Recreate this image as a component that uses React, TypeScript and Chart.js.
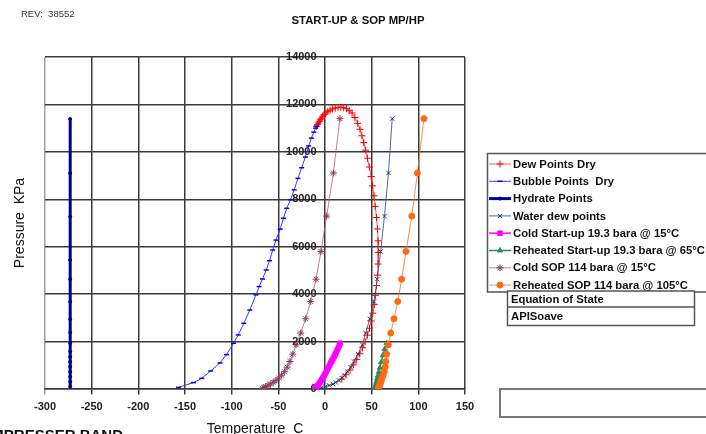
import React, { useEffect, useRef } from 'react';
import { Chart, registerables } from 'chart.js';
import { drawPoint } from 'chart.js/helpers';

Chart.register(...registerables);

const FONT = '"Liberation Sans", Arial, sans-serif';

const revText = 'REV:  38552';
const titleText = 'START-UP & SOP MP/HP';
const xTitle = 'Temperature  C';
const yTitle = 'Pressure  KPa';
const footText = 'COMPRESSER BAND';
const eosHeader = 'Equation of State';
const eosValue = 'APISoave';

const xTicks = [-300, -250, -200, -150, -100, -50, 0, 50, 100, 150];
const yTicks = [0, 2000, 4000, 6000, 8000, 10000, 12000, 14000];

const seriesNames = [
  'Dew Points Dry',
  'Bubble Points  Dry',
  'Hydrate Points',
  'Water dew points',
  'Cold Start-up 19.3 bara @ 15°C',
  'Reheated Start-up 19.3 bara @ 65°C',
  'Cold SOP 114 bara @ 15°C',
  'Reheated SOP 114 bara @ 105°C',
];

const dewT = [-9, -8, -7, -6, -5, -4, -2.5, -1, 1, 3, 5.5, 8, 11, 14, 17, 20, 23, 26, 29, 32, 35, 37.5, 39.5, 41.5, 43.5, 45.5, 47.5, 49.5, 51, 52.5, 53.8, 55.2, 56.2, 56.9, 57.2, 56.9, 56.2, 55.2, 54, 52.7, 51.2, 49.5, 47.7, 45.5, 43, 40.3, 37.3, 34, 30.5, 26.8, 22.5, 18];
const dewP = [11080, 11150, 11220, 11290, 11350, 11420, 11500, 11570, 11640, 11710, 11760, 11810, 11850, 11875, 11880, 11860, 11820, 11740, 11640, 11450, 11200, 10950, 10680, 10390, 10070, 9730, 9360, 8960, 8570, 8150, 7700, 7230, 6750, 6250, 5760, 5270, 4800, 4360, 3950, 3560, 3200, 2870, 2560, 2270, 2000, 1740, 1490, 1250, 1020, 800, 600, 420];

const bubbleT = [-157, -141, -132, -122.5, -112.5, -105.5, -98, -93, -87, -80.5, -74, -70.5, -67, -63, -59.5, -56, -52.5, -48, -44.5, -41, -37, -33, -29, -25, -21, -17.5, -14.5, -12, -10, -9];
const bubbleP = [70, 270, 450, 760, 1100, 1450, 1930, 2280, 2770, 3330, 3970, 4320, 4640, 5020, 5410, 5860, 6280, 6740, 7200, 7620, 7980, 8400, 8880, 9330, 9780, 10250, 10580, 10830, 11000, 11080];

const hydrateT = [-273, -273, -273, -273, -273, -273, -273, -273, -273, -273, -273, -273, -273, -273, -273, -273, -273];
const hydrateP = [11390, 9100, 7270, 5440, 4630, 3680, 2940, 2380, 1930, 1580, 1360, 1150, 940, 730, 520, 310, 100];

const waterT = [-8, -3.5, 0.5, 4.5, 8.5, 11.5, 15, 18, 21, 24, 27.5, 31, 35.3, 40, 43.5, 48, 52.5, 56, 59.6, 63.7, 68, 72];
const waterP = [30, 60, 100, 150, 210, 280, 360, 460, 580, 730, 920, 1160, 1470, 1860, 2360, 2960, 3690, 4630, 5800, 7290, 9110, 11400];

const coldUpT = [-11, -10, -8.8, -7.5, -6, -4.8, -3.5, -2.3, -1, 0.2, 1.4, 2.6, 3.8, 5, 6.2, 7.4, 8.6, 9.8, 10.9, 12, 13.2, 14.4, 15.4, 16.2];
const coldUpP = [20, 60, 110, 170, 240, 310, 390, 470, 560, 650, 740, 830, 920, 1010, 1100, 1190, 1280, 1370, 1460, 1550, 1650, 1750, 1850, 1930];

const hotUpT = [53.6, 53.8, 54, 54.3, 54.6, 55, 55.5, 56.1, 56.8, 57.7, 58.8, 60.2, 62, 63.8, 66];
const hotUpP = [20, 50, 90, 140, 200, 270, 350, 450, 570, 720, 900, 1130, 1420, 1680, 1930];

const coldSopT = [-67, -65.5, -63.5, -61, -58.5, -55.5, -52.5, -49.5, -46.5, -43.5, -40.5, -37.5, -34.5, -31, -26, -20.7, -15.4, -9.6, -4.3, 1.8, 9, 16];
const coldSopP = [30, 60, 100, 150, 210, 280, 360, 460, 580, 730, 920, 1160, 1470, 1860, 2360, 2960, 3690, 4630, 5800, 7290, 9110, 11400];

const hotSopT = [57.4, 57.7, 58, 58.5, 59, 59.6, 60.3, 61.2, 62.3, 63.5, 64.5, 65.2, 66, 67.9, 70.4, 73.9, 77.9, 82.1, 86.8, 93, 99, 106];
const hotSopP = [30, 60, 100, 150, 210, 280, 360, 460, 580, 730, 920, 1160, 1470, 1860, 2360, 2960, 3690, 4630, 5800, 7290, 9110, 11400];

const zip = (xs: number[], ys: number[]) => xs.map((x, i) => ({ x, y: ys[i] }));

type Style = { line: string; lw: number; fill: string; stroke: string; ps: string; r: number; pbw: number };
const styles: Style[] = [
  { line: 'rgba(255,40,40,0.75)', lw: 1, fill: '#ff0000', stroke: '#ff0000', ps: 'cross', r: 3.5, pbw: 1 },
  { line: '#3a3aff', lw: 1, fill: '#0000ff', stroke: '#0000ff', ps: 'line', r: 2.5, pbw: 1.5 },
  { line: '#00008b', lw: 3, fill: '#00008b', stroke: '#00008b', ps: 'circle', r: 1.5, pbw: 1 },
  { line: 'rgba(60,80,120,0.85)', lw: 1, fill: '#253a66', stroke: '#253a66', ps: 'crossRot', r: 3, pbw: 1 },
  { line: '#ff00ff', lw: 1.5, fill: '#ff00ff', stroke: '#ff00ff', ps: 'rect', r: 3.2, pbw: 1 },
  { line: '#2e8b57', lw: 1.5, fill: '#2e8b57', stroke: '#2e8b57', ps: 'triangle', r: 3, pbw: 1 },
  { line: 'rgba(160,90,125,0.75)', lw: 1, fill: '#8b3a62', stroke: '#8b3a62', ps: 'star', r: 3.5, pbw: 1 },
  { line: 'rgba(255,110,40,0.8)', lw: 1, fill: '#ff6a10', stroke: '#ff6a10', ps: 'circle', r: 3, pbw: 1 },
];

const seriesData = [
  zip(dewT, dewP),
  zip(bubbleT, bubbleP),
  zip(hydrateT, hydrateP),
  zip(waterT, waterP),
  zip(coldUpT, coldUpP),
  zip(hotUpT, hotUpP),
  zip(coldSopT, coldSopP),
  zip(hotSopT, hotSopP),
];

const decor = {
  id: 'decor',
  afterDraw(chart: any) {
    const ctx: CanvasRenderingContext2D = chart.ctx;
    const ca = chart.chartArea;
    ctx.save();
    ctx.textBaseline = 'middle';
    // REV
    ctx.fillStyle = '#333';
    ctx.font = `9.5px ${FONT}`;
    ctx.textAlign = 'left';
    ctx.fillText(revText, 21, 14);
    // title
    ctx.fillStyle = '#111';
    ctx.font = `bold 11.3px ${FONT}`;
    ctx.textAlign = 'center';
    ctx.fillText(titleText, 358, 21);
    // axis titles
    ctx.font = `14px ${FONT}`;
    ctx.fillText(xTitle, (ca.left + ca.right) / 2, 429);
    ctx.save();
    ctx.translate(20, (ca.top + ca.bottom) / 2);
    ctx.rotate(-Math.PI / 2);
    ctx.fillText(yTitle, 0, 0);
    ctx.restore();
    // footer clipped text
    ctx.font = `bold 15px ${FONT}`;
    ctx.textAlign = 'right';
    ctx.textBaseline = 'alphabetic';
    ctx.fillText(footText, 123, 440);
    ctx.textBaseline = 'middle';

    // legend
    ctx.fillStyle = '#fff';
    ctx.fillRect(487, 153, 260, 139);
    ctx.strokeStyle = '#555';
    ctx.lineWidth = 1.5;
    ctx.strokeRect(487.5, 153.5, 260, 138.5);
    chart.data.datasets.forEach((ds: any, i: number) => {
      const y = 164 + i * 17.3;
      ctx.strokeStyle = ds.borderColor;
      ctx.lineWidth = ds.borderWidth;
      ctx.beginPath();
      ctx.moveTo(489, y);
      ctx.lineTo(511, y);
      ctx.stroke();
      ctx.fillStyle = ds.pointBackgroundColor;
      ctx.strokeStyle = ds.pointBorderColor;
      ctx.lineWidth = ds.pointBorderWidth;
      drawPoint(ctx, { pointStyle: ds.pointStyle, radius: ds.pointRadius, borderWidth: ds.pointBorderWidth, rotation: 0 } as any, 500, y);
      ctx.fillStyle = '#111';
      ctx.font = `bold 11.3px ${FONT}`;
      ctx.textAlign = 'left';
      ctx.fillText(ds.label, 513, y + 0.5);
    });

    // equation of state table
    ctx.fillStyle = '#fff';
    ctx.fillRect(507, 291, 188, 35);
    ctx.strokeStyle = '#555';
    ctx.lineWidth = 1.5;
    ctx.strokeRect(507.5, 291, 187, 34.5);
    ctx.beginPath();
    ctx.moveTo(507.5, 307);
    ctx.lineTo(694.5, 307);
    ctx.stroke();
    ctx.fillStyle = '#111';
    ctx.font = `bold 11.3px ${FONT}`;
    ctx.fillText(eosHeader, 511, 299.5);
    ctx.fillText(eosValue, 511, 316.5);

    // bottom box
    ctx.strokeStyle = '#777';
    ctx.lineWidth = 2;
    ctx.strokeRect(500, 389, 260, 28);
    ctx.restore();
  },
};

export default function App() {
  const ref = useRef<HTMLCanvasElement | null>(null);
  useEffect(() => {
    if (!ref.current) return;
    const gridColor = (c: any) => (c.tick && c.tick.value === -300 ? '#a0a0a0' : '#3a3a3a');
    const chart = new Chart(ref.current, {
      type: 'scatter',
      data: {
        datasets: seriesData.map((d, i) => ({
          label: seriesNames[i],
          data: d,
          showLine: true,
          borderColor: styles[i].line,
          borderWidth: styles[i].lw,
          backgroundColor: styles[i].fill,
          pointBackgroundColor: styles[i].fill,
          pointBorderColor: styles[i].stroke,
          pointBorderWidth: styles[i].pbw,
          pointStyle: styles[i].ps as any,
          pointRadius: styles[i].r,
          tension: 0,
          order: -i,
        })),
      },
      options: {
        animation: false,
        responsive: false,
        layout: { padding: { left: 45, top: 57, right: 241, bottom: 45 } },
        plugins: { legend: { display: false }, tooltip: { enabled: false }, title: { display: false } },
        scales: {
          x: {
            type: 'linear',
            min: -300,
            max: 150,
            position: { y: 0 } as any,
            afterBuildTicks: (s: any) => { s.ticks = xTicks.map((v) => ({ value: v })); },
            ticks: {
              callback: (v: any) => String(v),
              color: '#222',
              font: { family: FONT, size: 11, weight: 'bold' },
              padding: 6,
              maxRotation: 0,
              autoSkip: false,
            },
            grid: { color: gridColor, lineWidth: 1.5, tickLength: 5 },
            border: { display: true, color: '#3a3a3a', width: 1.5 },
            afterFit: (s: any) => { s.height = 0; },
          } as any,
          y: {
            type: 'linear',
            min: 0,
            max: 14000,
            position: { x: -9 } as any,
            afterBuildTicks: (s: any) => { s.ticks = yTicks.map((v) => ({ value: v })); },
            ticks: {
              callback: (v: any) => String(v),
              color: '#222',
              font: { family: FONT, size: 11, weight: 'bold' },
              padding: 3,
              autoSkip: false,
            },
            grid: { color: '#3a3a3a', lineWidth: 1.5, drawTicks: false },
            border: { display: false },
            afterFit: (s: any) => { s.width = 0; },
          } as any,
        },
      },
      plugins: [decor],
    });
    return () => chart.destroy();
  }, []);
  return (
    <div style={{ position: 'absolute', left: 0, top: 0, width: 706, height: 434, background: '#fff' }}>
      <canvas ref={ref} width={706} height={434} style={{ display: 'block' }} />
    </div>
  );
}
